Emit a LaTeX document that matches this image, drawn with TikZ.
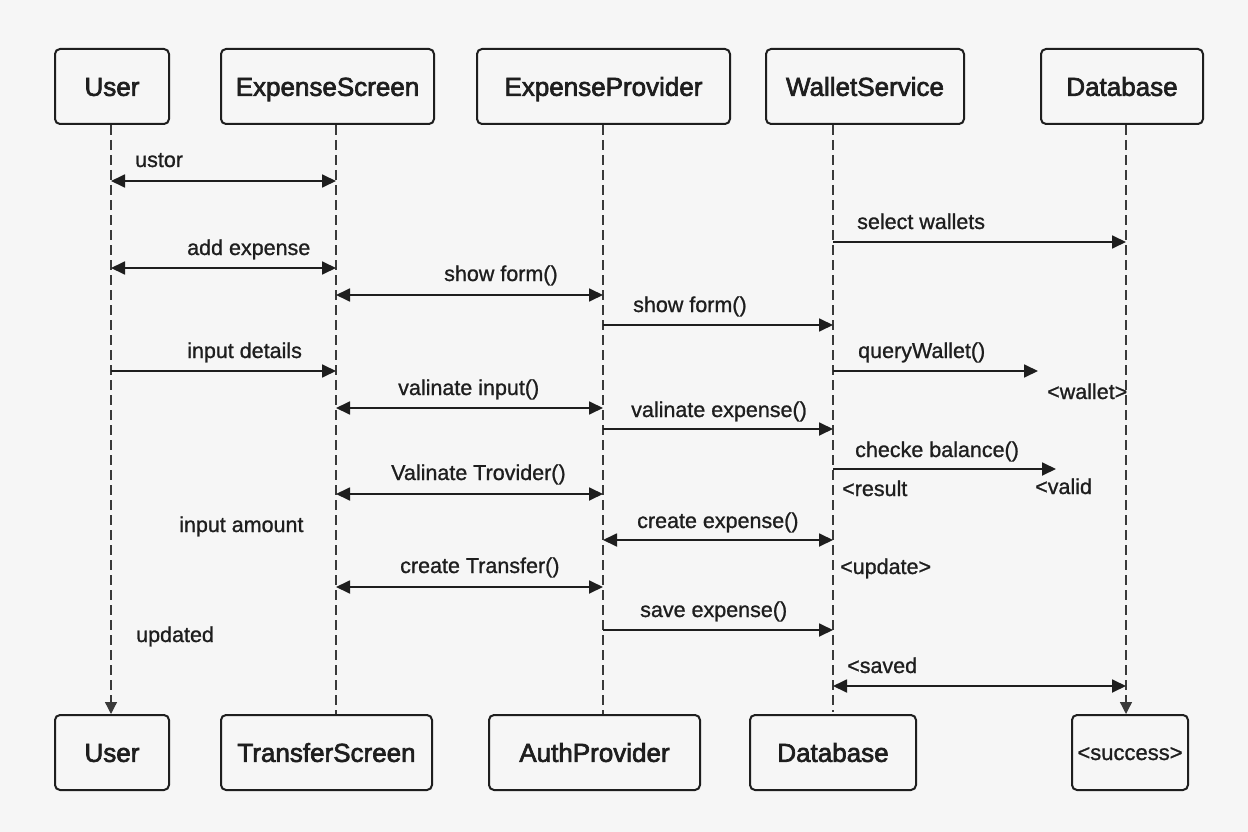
\documentclass[tikz,border=0pt]{standalone}
\usepackage{fontspec}
\setmainfont{Liberation Sans}[FakeBold=1]
\newfontfamily\boxfont{Liberation Sans}[FakeBold=2.5]
\usetikzlibrary{arrows.meta}
\definecolor{ink}{HTML}{1E1E1E}
\definecolor{lifec}{HTML}{3A3A3A}
\definecolor{bg}{HTML}{F6F6F6}
\begin{document}
\begin{tikzpicture}[x=1pt,y=-1pt,
  actor/.style={draw=ink, line width=2pt, rounded corners=5pt, fill=bg,
    inner sep=0pt, minimum height=75pt, text=ink,
    font=\boxfont\fontsize{26}{30}\selectfont, text height=18.7pt, text depth=0pt},
  msg/.style={draw=ink, line width=1.8pt, -{Triangle[length=14pt,width=13pt]}},
  dmsg/.style={draw=ink, line width=1.8pt, {Triangle[length=14pt,width=13pt]}-{Triangle[length=14pt,width=13pt]}},
  life/.style={draw=lifec, line width=1.3pt, dash pattern=on 10pt off 5pt},
  lbl/.style={font=\fontsize{21.5}{24}\selectfont, text=ink, inner sep=0pt, anchor=base west},
]
\useasboundingbox (0,0) rectangle (1248,832);
\fill[bg] (0,0) rectangle (1248,832);

% lifeline x positions
\coordinate (LU) at (111,0);
\coordinate (LS) at (336,0);
\coordinate (LP) at (603,0);
\coordinate (LW) at (833,0);
\coordinate (LD) at (1126,0);

% top actors
\node[actor, minimum width=114pt] (u1) at (112,86.5) {User};
\node[actor, minimum width=213pt] (s1) at (327.5,86.5) {ExpenseScreen};
\node[actor, minimum width=253pt] (p1) at (603.5,86.5) {ExpenseProvider};
\node[actor, minimum width=198pt] (w1) at (865,86.5) {WalletService};
\node[actor, minimum width=162pt] (d1) at (1122,86.5) {Database};

% bottom actors
\node[actor, minimum width=114pt] (u2) at (112,752.5) {User};
\node[actor, minimum width=211pt] (s2) at (326.5,752.5) {TransferScreen};
\node[actor, minimum width=211pt] (p2) at (594.5,752.5) {AuthProvider};
\node[actor, minimum width=166pt] (w2) at (833,752.5) {Database};
\node[actor, minimum width=116pt, font=\fontsize{22}{26}\selectfont, text height=15pt] (d2) at (1130,752.5) {<success>};

% lifelines
\draw[life, -{Triangle[length=12pt,width=12pt]}] (LU |- u1.south) -- (LU |- u2.north);
\draw[life] (LS |- s1.south) -- (LS |- s2.north);
\draw[life] (LP |- p1.south) -- (LP |- p2.north);
\coordinate (wend) at (833,712);
\draw[life] (LW |- w1.south) -- (wend);
\draw[life, -{Triangle[length=12pt,width=12pt]}] (LD |- d1.south) -- (LD |- d2.north);

% messages
\draw[dmsg] (LU |- 0,181) -- (LS |- 0,181);
\draw[dmsg] (LU |- 0,268) -- (LS |- 0,268);
\draw[dmsg] (LS |- 0,295) -- (LP |- 0,295);
\draw[msg] (LW |- 0,242) -- (LD |- 0,242);
\draw[msg] (LP |- 0,325) -- (LW |- 0,325);
\draw[msg] (LU |- 0,371) -- (LS |- 0,371);
\coordinate (qend) at (1038,371);
\draw[msg] (LW |- 0,371) -- (qend);
\draw[dmsg] (LS |- 0,408) -- (LP |- 0,408);
\draw[msg] (LP |- 0,429) -- (LW |- 0,429);
\coordinate (cend) at (1056,469);
\draw[msg] (LW |- 0,469) -- (cend);
\draw[dmsg] (LS |- 0,494) -- (LP |- 0,494);
\draw[dmsg] (LP |- 0,540) -- (LW |- 0,540);
\draw[dmsg] (LS |- 0,587) -- (LP |- 0,587);
\draw[msg] (LP |- 0,630) -- (LW |- 0,630);
\draw[dmsg] (LW |- 0,686) -- (LD |- 0,686);

% labels
\node[lbl] (t1) at (135,167) {ustor};
\node[lbl] (t2) at (187,255) {add expense};
\node[lbl] (t3) at (444,281) {show form()};
\node[lbl] (t4) at (857,229) {select wallets};
\node[lbl] (t5) at (633,312) {show form()};
\node[lbl] (t6) at (187,358) {input details};
\node[lbl] (t7) at (858,358) {queryWallet()};
\node[lbl] (t8) at (1047,399) {<wallet>};
\node[lbl] (t9) at (398,395) {valinate input()};
\node[lbl] (t10) at (631,417) {valinate expense()};
\node[lbl] (t11) at (855,457) {checke balance()};
\node[lbl] (t12) at (842,496) {<result};
\node[lbl] (t13) at (1035,494) {<valid};
\node[lbl] (t14) at (391,480) {Valinate Trovider()};
\node[lbl] (t15) at (179,532) {input amount};
\node[lbl] (t16) at (637,528) {create expense()};
\node[lbl] (t17) at (400,573) {create Transfer()};
\node[lbl] (t18) at (840,574) {<update>};
\node[lbl] (t19) at (640,617) {save expense()};
\node[lbl] (t20) at (136,642) {updated};
\node[lbl] (t21) at (847,673) {<saved};
\end{tikzpicture}
\end{document}
